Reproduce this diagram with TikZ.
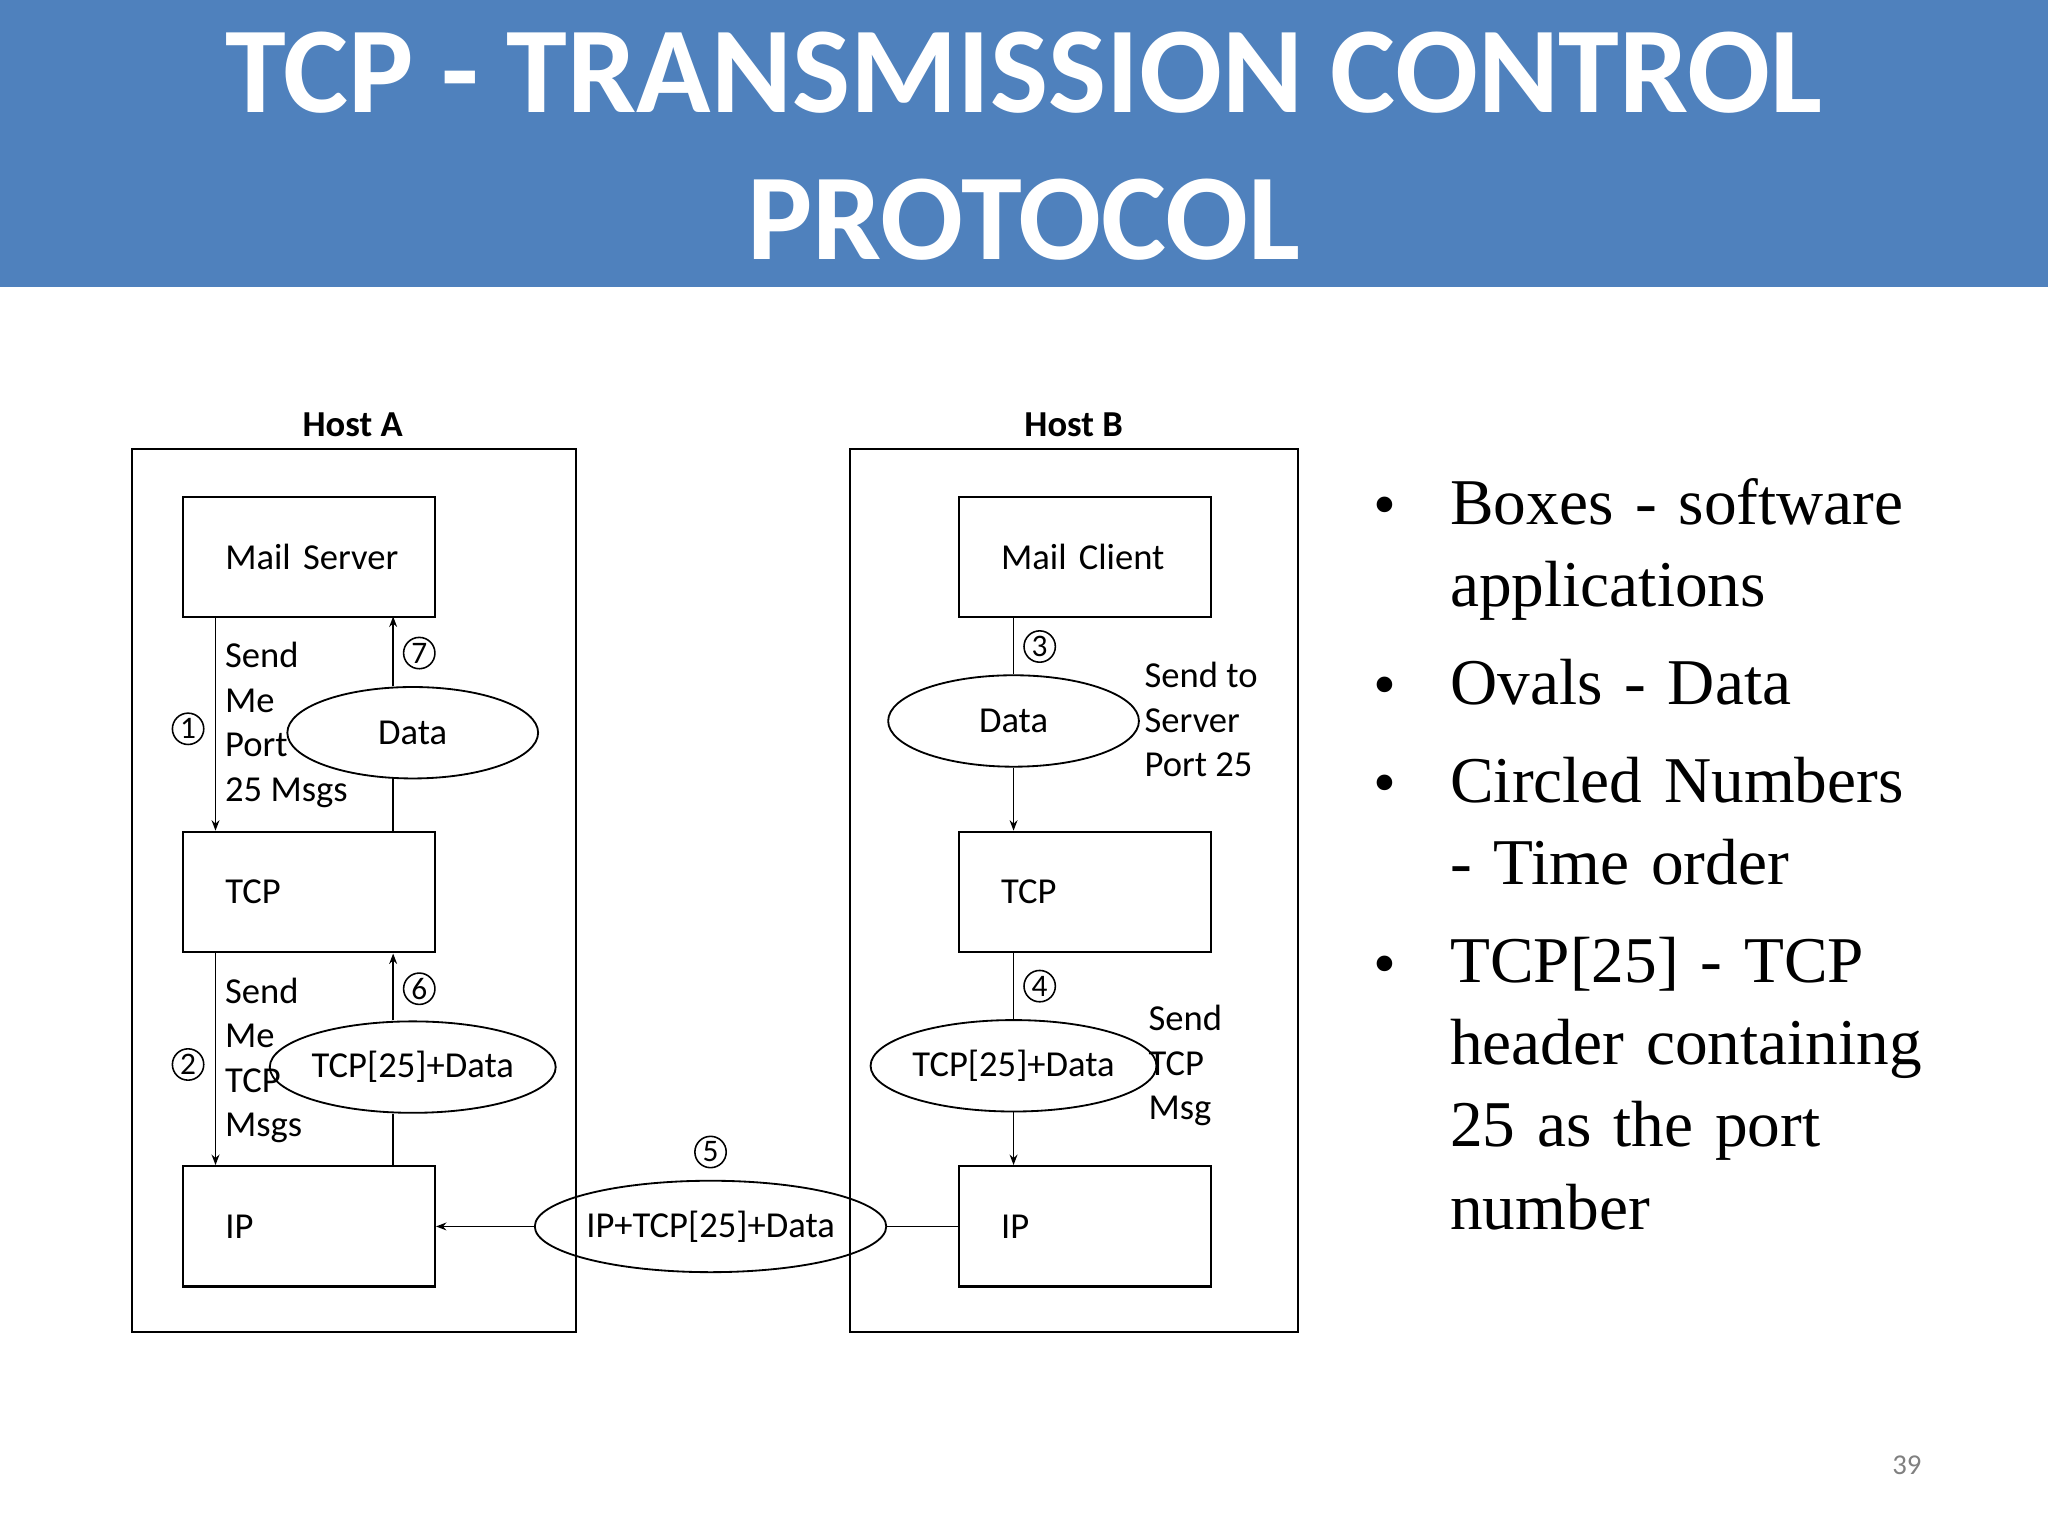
\documentclass[tikz,border=0pt]{standalone}
\usepackage{fontspec}
\setmainfont{Liberation Serif}
\newfontfamily\carl{Carlito}
\usetikzlibrary{arrows.meta,shapes.geometric}
\definecolor{bar}{RGB}{79,129,189}
\begin{document}
\begin{tikzpicture}[x=0.5pt,y=-0.5pt,
 box/.style={draw,line width=0.8pt,minimum width=96.5pt,minimum height=46pt,inner sep=0pt,font=\carl\fontsize{14}{16}\selectfont,text width=80pt,align=left},
 ov/.style={draw,ellipse,line width=0.7pt,minimum width=96pt,minimum height=35pt,inner sep=0pt,font=\carl\fontsize{14}{16}\selectfont},
 cn/.style={draw,circle,line width=0.6pt,minimum size=12pt,inner sep=0pt,font=\carl\fontsize{12}{12}\selectfont},
 lb/.style={font=\carl\fontsize{14}{17}\selectfont,align=left,anchor=west,inner sep=0pt},
 ln/.style={line width=0.7pt},
 ar/.style={line width=0.7pt,-{Stealth[length=4pt,width=3pt]}},
 bl/.style={font=\fontsize{25}{31.5}\selectfont,anchor=north west,inner sep=0pt,align=left,text width=190pt}]
\useasboundingbox (0,0) rectangle (1568,1176);
\fill[bar] (0,0) rectangle (1568,220);
\node[white,font=\carl\bfseries\fontsize{47}{56}\selectfont,align=center] (title) at (784,112) {TCP - TRANSMISSION CONTROL\\PROTOCOL};
% hosts
\draw[line width=0.8pt] (101,344) rectangle (441,1020);
\draw[line width=0.8pt] (651,344) rectangle (994,1020);
\node[font=\carl\bfseries\fontsize{14}{16}\selectfont] (ha) at (270,325) {Host A};
\node[font=\carl\bfseries\fontsize{14}{16}\selectfont] (hb) at (822,325) {Host B};
\node[box] (ms) at (236.5,426.5) {\hspace*{8pt}Mail Server};
\node[box] (ta) at (236.5,683) {\hspace*{8pt}TCP};
\node[box] (ia) at (236.5,939) {\hspace*{8pt}IP};
\node[box] (mc) at (830.5,426.5) {\hspace*{8pt}Mail Client};
\node[box] (tb) at (830.5,683) {\hspace*{8pt}TCP};
\node[box] (ib) at (830.5,939) {\hspace*{8pt}IP};
% host A top
\coordinate (a1) at (165,472); \coordinate (a2) at (165,636);
\draw[ar] (a1) -- (a2);
\node[ov] (d1) at (316,561) {Data};
\coordinate (a3) at (301,636); \coordinate (a4) at (301,472);
\draw[ln] (a3) -- (a3 |- d1.south);
\draw[ar] (a4 |- d1.north) -- (a4);
\node[cn] (c7) at (321,500) {7};
\node[cn] (c1) at (144,558) {1};
\node[lb] (t1) at (172,555) {Send\\Me\\Port\\25 Msgs};
% host A bottom
\coordinate (b1) at (165,730); \coordinate (b2) at (165,892);
\draw[ar] (b1) -- (b2);
\node[ov] (d2) at (316,817) {TCP[25]+Data};
\coordinate (b3) at (301,892); \coordinate (b4) at (301,730);
\draw[ln] (b3) -- (b3 |- d2.south);
\draw[ar] (b4 |- d2.north) -- (b4);
\node[cn] (c6) at (321,757) {6};
\node[cn] (c2) at (144,815) {2};
\node[lb] (t2) at (172,812) {Send\\Me\\TCP\\Msgs};
% host B
\node[ov] (d3) at (776,552) {Data};
\coordinate (e1) at (776,472); \coordinate (e2) at (776,636);
\draw[ln] (e1) -- (d3.north);
\draw[ar] (d3.south) -- (e2);
\node[cn] (c3) at (796,495) {3};
\node[lb] (t3) at (876,551) {Send to\\Server\\Port 25};
\node[ov] (d4) at (776,816) {TCP[25]+Data};
\coordinate (f1) at (776,730); \coordinate (f2) at (776,892);
\draw[ln] (f1) -- (d4.north);
\draw[ar] (d4.south) -- (f2);
\node[cn] (c4) at (796,755) {4};
\node[lb] (t4) at (879,816) {Send\\TCP\\Msg};
% bottom
\node[ov] (d5) at (544,939) {IP+TCP[25]+Data};
\draw[ln] (ib.west) -- (d5.east);
\draw[ar] (d5.west) -- (ia.east);
\node[cn] (c5) at (544,882) {5};
% bullets
\foreach \y/\n in {392/p1,530/p2,605/p3,743/p4}{\node[font=\fontsize{25}{30}\selectfont] (\n) at (1060,\y) {\textbullet};}
\node[bl] (q1) at (1110,366) {Boxes - software applications};
\node[bl] (q2) at (1110,504) {Ovals - Data};
\node[bl] (q3) at (1110,579) {Circled Numbers - Time order};
\node[bl] (q4) at (1110,717) {TCP[25] - TCP header containing 25 as the port number};
\node[font=\carl\fontsize{11}{12}\selectfont,text=gray] (pg) at (1460,1122) {39};
\end{tikzpicture}
\end{document}
